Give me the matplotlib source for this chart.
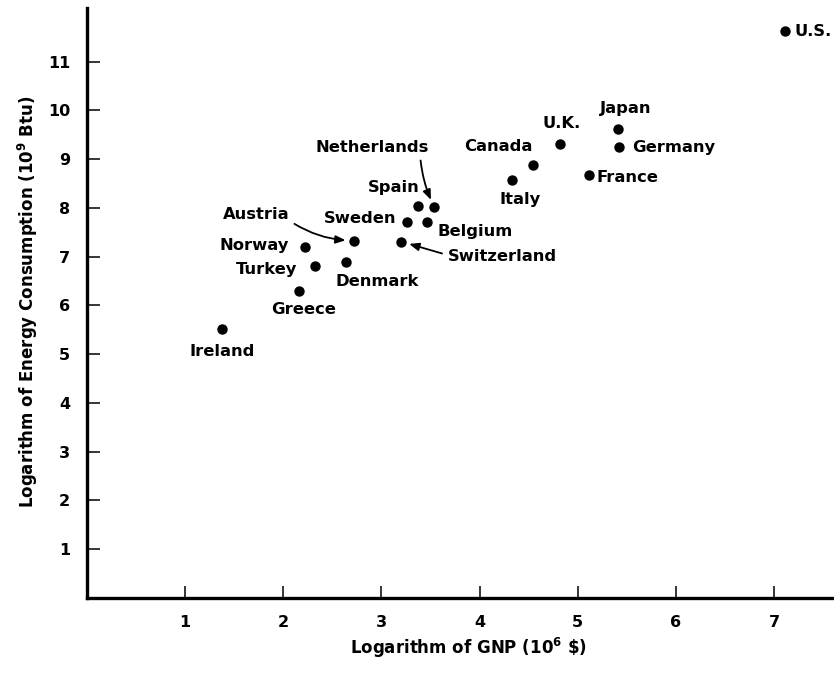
import matplotlib
matplotlib.use('Agg')
import matplotlib.pyplot as plt

plt.rcParams['font.family'] = ['DejaVu Sans']
plt.rcParams['font.weight'] = 'bold'
plt.rcParams['mathtext.fontset'] = 'custom'
plt.rcParams['mathtext.rm'] = 'DejaVu Sans:bold'
plt.rcParams['mathtext.bf'] = 'DejaVu Sans:bold'
plt.rcParams['mathtext.default'] = 'bf'

# log GNP (10^6 $) vs log energy consumption (10^9 Btu)
countries = ['U.S.', 'Japan', 'Germany', 'France', 'U.K.', 'Canada', 'Italy',
             'Netherlands', 'Spain', 'Sweden', 'Belgium', 'Austria',
             'Switzerland', 'Norway', 'Turkey', 'Denmark', 'Greece', 'Ireland']
log_gnp = [7.11, 5.41, 5.42, 5.11, 4.82, 4.54, 4.33,
           3.54, 3.37, 3.26, 3.46, 2.72,
           3.20, 2.22, 2.32, 2.64, 2.16, 1.38]
log_energy = [11.62, 9.61, 9.26, 8.67, 9.32, 8.89, 8.58,
              8.01, 8.03, 7.72, 7.72, 7.33,
              7.31, 7.19, 6.80, 6.90, 6.29, 5.52]

xticks = [1, 2, 3, 4, 5, 6, 7]
yticks = [1, 2, 3, 4, 5, 6, 7, 8, 9, 10, 11]

# label placement: (dx, dy) in pixels, horizontal alignment
label_pos = {
    'U.S.': (10, 0, 'left'), 'Japan': (8, 21, 'center'),
    'Germany': (13, -1, 'left'), 'France': (8, -2, 'left'),
    'U.K.': (1, 20, 'center'), 'Canada': (-34, 18, 'center'),
    'Italy': (8, -20, 'center'), 'Netherlands': (-62, 60, 'center'),
    'Spain': (-24, 19, 'center'), 'Sweden': (-47, 3, 'center'),
    'Belgium': (48, -10, 'center'), 'Austria': (-98, 26, 'center'),
    'Switzerland': (101, -15, 'center'), 'Norway': (-51, 2, 'center'),
    'Turkey': (-48, -3, 'center'), 'Denmark': (31, -20, 'center'),
    'Greece': (5, -18, 'center'), 'Ireland': (0, -23, 'center'),
}
arrows = {
    'Netherlands': dict(relpos=(0.92, 0.0), connectionstyle='arc3,rad=0.1'),
    'Austria': dict(relpos=(1.0, 0.1), connectionstyle='arc3,rad=0.15'),
    'Switzerland': dict(relpos=(0.0, 0.6), connectionstyle='arc3,rad=0'),
}

fig = plt.figure(figsize=(8.34, 6.75), dpi=100)
ax = fig.add_axes([0.1043, 0.1141, 0.8957, 0.874])

ax.scatter(log_gnp, log_energy, s=42, color='black', zorder=3)

for name, x, y in zip(countries, log_gnp, log_energy):
    dx, dy, ha = label_pos[name]
    if name in arrows:
        ap = dict(arrowstyle='-|>,head_length=0.5,head_width=0.2', color='black',
                  lw=1.3, shrinkA=2, shrinkB=6, **arrows[name])
    else:
        ap = None
    ax.annotate(name, (x, y), xytext=(dx, dy), textcoords='offset pixels',
                ha=ha, va='center', fontsize=11.8, fontweight='bold',
                arrowprops=ap)

ax.set_xlim(0, 7.61)
ax.set_ylim(0, 12.1)
ax.set_xticks(xticks)
ax.set_yticks(yticks)
ax.tick_params(direction='in', length=9, width=1.1, labelsize=11.5, pad=12)
for lab in ax.get_xticklabels() + ax.get_yticklabels():
    lab.set_fontweight('bold')

for side in ['top', 'right']:
    ax.spines[side].set_visible(False)
for side in ['left', 'bottom']:
    ax.spines[side].set_linewidth(2.4)

ax.set_xlabel('Logarithm of GNP (10$^{6}$ \\$)', fontsize=12, fontweight='bold', va='center')
ax.set_ylabel('Logarithm of Energy Consumption (10$^{9}$ Btu)', fontsize=12,
              fontweight='bold', va='center')
ax.xaxis.set_label_coords(0.51, -0.085)
ax.yaxis.set_label_coords(-0.079, 0.502)

fig.savefig('out.png', dpi=100)
